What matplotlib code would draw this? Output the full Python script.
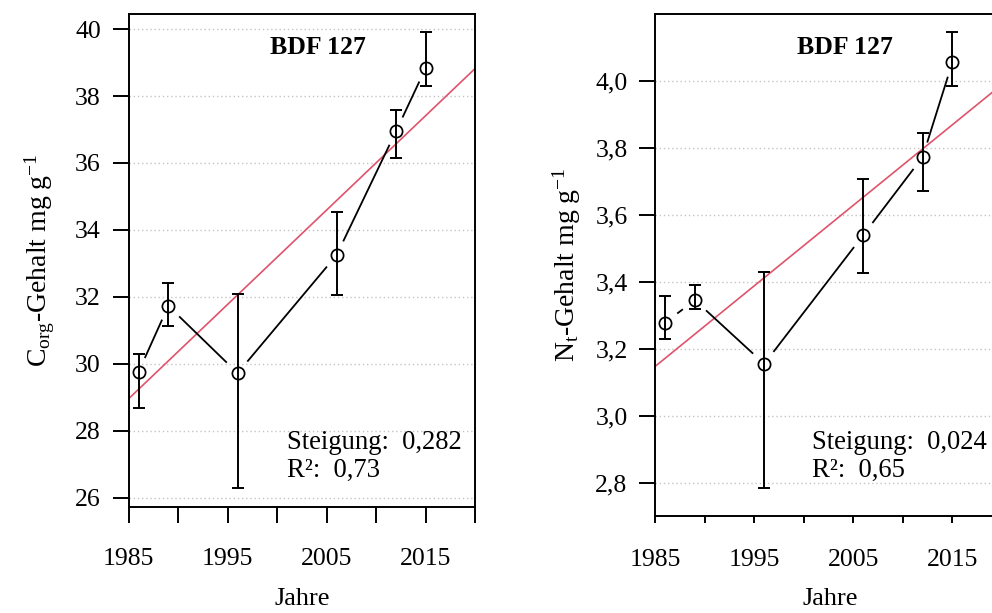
import numpy as np
import matplotlib
matplotlib.use("Agg")
import matplotlib.pyplot as plt

plt.rcParams["font.family"] = ["Liberation Serif", "DejaVu Serif"]
plt.rcParams["mathtext.fontset"] = "custom"
plt.rcParams["mathtext.rm"] = "Liberation Serif"
plt.rcParams["mathtext.it"] = "Liberation Serif:italic"
plt.rcParams["mathtext.bf"] = "Liberation Serif:bold"

# ---- data -------------------------------------------------------------
years = [1986, 1989, 1996, 2006, 2012, 2015]

corg_mean = [29.76, 31.73, 29.72, 33.25, 36.95, 38.84]
corg_low = [28.69, 31.13, 26.29, 32.05, 36.15, 38.31]
corg_high = [30.28, 32.40, 32.08, 34.53, 37.58, 39.92]
corg_slope = 0.282
corg_slope_txt = "0,282"
corg_r2_txt = "0,73"

nt_mean = [3.279, 3.346, 3.156, 3.540, 3.773, 4.055]
nt_low = [3.230, 3.319, 2.786, 3.427, 3.671, 3.985]
nt_high = [3.359, 3.391, 3.430, 3.707, 3.844, 4.146]
nt_slope = 0.024
nt_slope_txt = "0,024"
nt_r2_txt = "0,65"

x_ticks = [1985, 1990, 1995, 2000, 2005, 2010, 2015, 2020]
x_tick_labels = ["1985", "", "1995", "", "2005", "", "2015", ""]

corg_yticks = [26, 28, 30, 32, 34, 36, 38, 40]
corg_yticklabels = ["26", "28", "30", "32", "34", "36", "38", "40"]
nt_yticks = [2.8, 3.0, 3.2, 3.4, 3.6, 3.8, 4.0]
nt_yticklabels = ["2,8", "3,0", "3,2", "3,4", "3,6", "3,8", "4,0"]

site = "BDF 127"
red = "#DF536B"
W, H = 992, 613

fig = plt.figure(figsize=(W / 100, H / 100), dpi=100)


def px_axes(left, top, right, bottom):
    return fig.add_axes([left / W, 1 - bottom / H, (right - left) / W, (bottom - top) / H])


def panel(ax, ylim, yticks, yticklabels, mean, low, high, slope,
          slope_txt, r2_txt, ylabel, xtick_len, text_pos, title_pos):
    ax.set_xlim(1985, 2020)
    ax.set_ylim(*ylim)

    # grid
    for yv in yticks:
        ax.axhline(yv, color="#c4c4c4", lw=1.0, ls=(0, (1, 2)), zorder=0)

    # regression line through the mean point
    xm = np.mean(years)
    ym = np.mean(mean)
    xs = np.array([1985, 2020])
    ax.plot(xs, ym + slope * (xs - xm), color=red, lw=1.2, zorder=1)

    # connecting segments with gaps around the points
    m = np.array(mean)
    pts = ax.transData.transform(np.column_stack([years, m]))
    gap = 16.0
    inv = ax.transData.inverted()
    for a, b in zip(pts[:-1], pts[1:]):
        d = b - a
        L = np.hypot(*d)
        if L > 2 * gap:
            u = d / L
            seg = inv.transform(np.vstack([a + u * gap, b - u * gap]))
            ax.plot(seg[:, 0], seg[:, 1], color="black", lw=1.3, zorder=2)

    yerr = [m - np.array(low), np.array(high) - m]
    ax.errorbar(years, m, yerr=yerr, fmt="none", ecolor="black",
                elinewidth=1.4, capsize=4.4, capthick=1.4, zorder=3)
    ax.plot(years, m, ls="none", marker="o", ms=8.8, mfc="none",
            mec="black", mew=1.25, zorder=4)

    ax.set_xticks(x_ticks)
    ax.set_xticklabels(x_tick_labels)
    ax.set_yticks(yticks)
    ax.set_yticklabels(yticklabels)
    ax.tick_params(axis="y", direction="out", length=11.5, width=1.4,
                   labelsize=18.5, pad=8.5)
    ax.tick_params(axis="x", direction="out", length=xtick_len, width=1.4,
                   labelsize=18.5, pad=18.5)
    for s in ax.spines.values():
        s.set_linewidth(1.4)

    ax.set_ylabel(ylabel, fontsize=20)
    ax.yaxis.label.set_va("center")
    ax.yaxis.set_label_coords(-0.256, 0.5)
    ax.set_xlabel("Jahre", fontsize=19)

    ax.text(title_pos[0], title_pos[1], site, transform=ax.transAxes,
            fontsize=18.5, fontweight="bold", ha="center", va="center")
    ax.text(text_pos[0], text_pos[1], "Steigung:  " + slope_txt,
            transform=ax.transAxes, fontsize=19.2, ha="left", va="center")
    ax.text(text_pos[0], text_pos[2], "R²:  " + r2_txt,
            transform=ax.transAxes, fontsize=19.2, ha="left", va="center")


ax1 = px_axes(128.7, 14, 475.3, 506.7)
panel(ax1, (25.73, 40.45), corg_yticks, corg_yticklabels,
      corg_mean, corg_low, corg_high, corg_slope, corg_slope_txt, corg_r2_txt,
      r"C$_{\mathrm{org}}$-Gehalt mg g$^{-1}$", 11.5,
      (0.457, 0.131, 0.0745), (0.546, 0.933))
ax1.xaxis.set_label_coords(0.5, (506.7 - 599) / (506.7 - 14))
ax1.xaxis.label.set_va("center")

ax2 = px_axes(655.3, 14, 655.3 + 346.6, 516)
panel(ax2, (2.7025, 4.199), nt_yticks, nt_yticklabels,
      nt_mean, nt_low, nt_high, nt_slope, nt_slope_txt, nt_r2_txt,
      r"N$_{\mathrm{t}}$-Gehalt mg g$^{-1}$", 5,
      (0.452, 0.147, 0.0916), (0.547, 0.934))
ax2.xaxis.set_label_coords(0.504, (516 - 599) / (516 - 14))
ax2.xaxis.label.set_va("center")

fig.savefig("out.png", dpi=100)
